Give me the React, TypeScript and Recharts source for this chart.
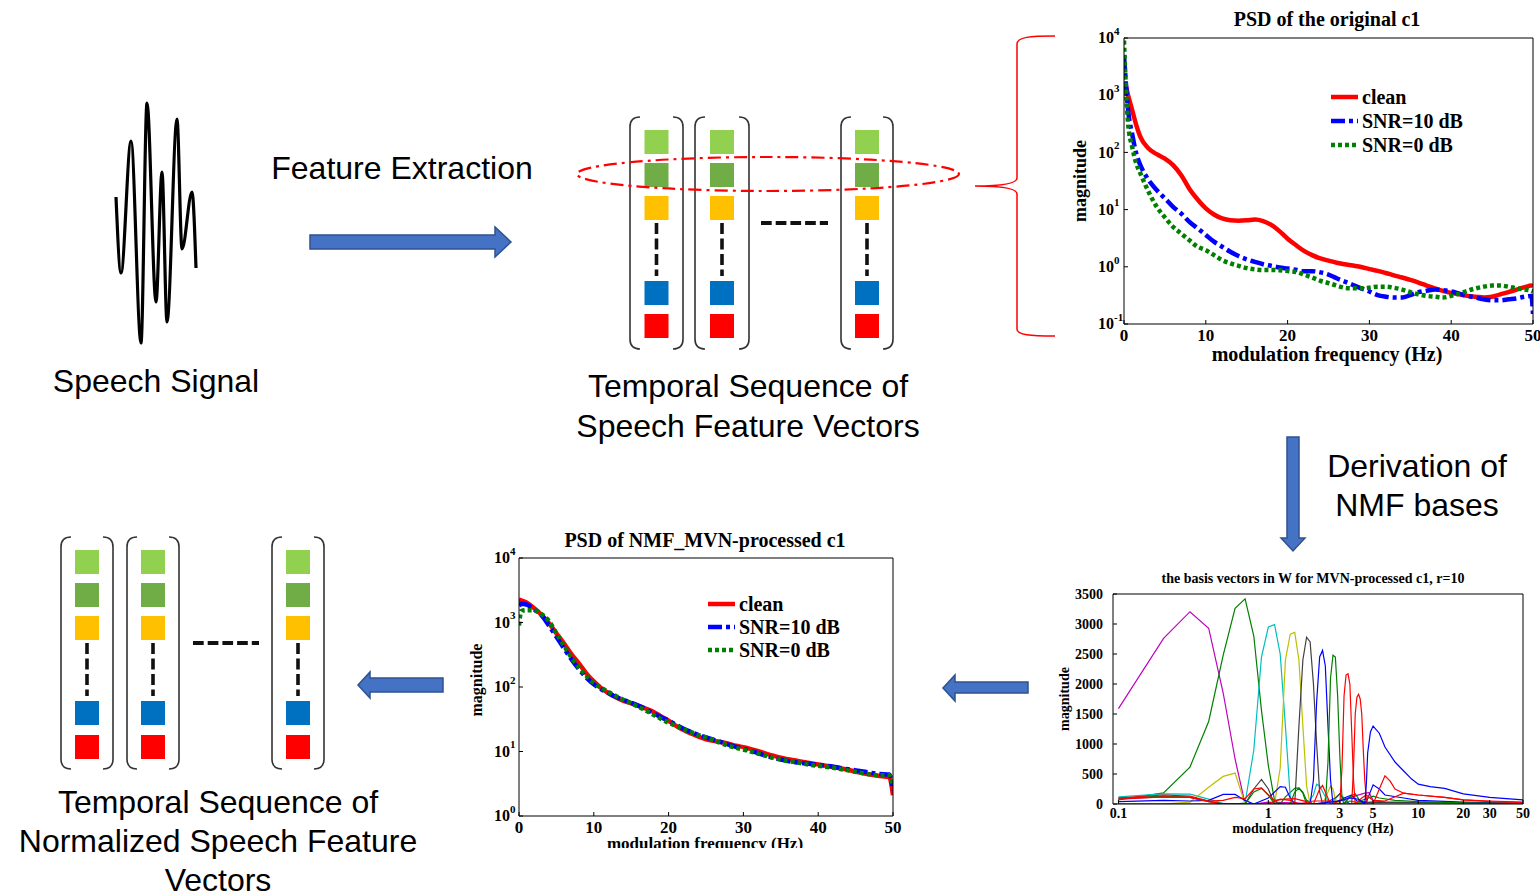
import React from "react";
import { LineChart, Line, XAxis, YAxis } from "recharts";

const SERIF = '"Liberation Serif", "Times New Roman", serif';
const SANS = '"Liberation Sans", Arial, sans-serif';

const RED = "#FF0000";
const BLUE = "#0000FF";
const GREEN = "#008000";
const CYAN = "#00BFBF";
const MAGENTA = "#BF00BF";
const YELLOW = "#BFBF00";
const GREY = "#404040";

// speech waveform sketch: sample index / amplitude
const waveT = [6, 11, 21, 31, 37, 46, 52, 57, 67, 72, 82, 86];
const waveA = [25, -51, 81, -121, 119, -80, 50, -100, 103, -27, 30, -46];

// PSD of the original c1
const origFreq = [0, 0.25, 0.5, 1, 1.5, 2, 3, 4, 5, 6, 7, 8, 9, 10, 11, 12, 13, 14, 15, 16, 17, 18, 19, 20, 21, 22, 23, 24, 25, 26, 27, 28, 29, 30, 31, 32, 33, 34, 35, 36, 37, 38, 39, 40, 41, 42, 43, 44, 45, 46, 47, 48, 49, 49.8, 50];
const origClean = [1700, 1400, 1000, 550, 300, 186, 117, 93, 78, 60, 40, 23, 15, 10.5, 8.2, 7, 6.5, 6.4, 6.5, 6.7, 6.3, 5.4, 4.2, 3.1, 2.4, 1.9, 1.6, 1.4, 1.28, 1.18, 1.11, 1.05, 0.99, 0.91, 0.85, 0.78, 0.71, 0.65, 0.59, 0.53, 0.47, 0.42, 0.38, 0.35, 0.33, 0.31, 0.3, 0.29, 0.3, 0.33, 0.36, 0.4, 0.44, 0.47, 0.46];
const origSnr10 = [5000, 1500, 550, 210, 95, 60, 33, 22, 15.7, 11.2, 8.5, 6.1, 4.7, 3.6, 2.75, 2.24, 1.83, 1.54, 1.35, 1.22, 1.11, 1.04, 0.97, 0.93, 0.89, 0.84, 0.84, 0.8, 0.73, 0.63, 0.55, 0.48, 0.42, 0.37, 0.32, 0.3, 0.29, 0.29, 0.32, 0.36, 0.38, 0.4, 0.39, 0.37, 0.34, 0.31, 0.29, 0.27, 0.26, 0.26, 0.27, 0.28, 0.3, 0.31, 0.15];
const origSnr0 = [9000, 1200, 320, 125, 64, 43, 20.5, 11.2, 7.3, 5, 3.8, 2.9, 2.24, 1.95, 1.6, 1.31, 1.15, 1.04, 0.95, 0.9, 0.88, 0.88, 0.87, 0.84, 0.81, 0.73, 0.65, 0.57, 0.52, 0.47, 0.43, 0.42, 0.42, 0.43, 0.45, 0.45, 0.43, 0.4, 0.36, 0.33, 0.31, 0.3, 0.29, 0.31, 0.34, 0.38, 0.42, 0.45, 0.47, 0.47, 0.45, 0.42, 0.4, 0.38, 0.37];

// PSD of NMF_MVN-processed c1
const nmfFreq = [0, 0.3, 1, 2, 3, 4, 5, 6, 7, 8, 9, 10, 11, 12, 13, 14, 15, 16, 17, 18, 19, 20, 21, 22, 23, 24, 25, 26, 27, 28, 29, 30, 31, 32, 33, 34, 35, 36, 37, 38, 39, 40, 42, 44, 46, 48, 49.5, 50];
const nmfClean = [2250, 2200, 2050, 1670, 1320, 980, 680, 475, 325, 233, 163, 122, 96, 80, 69, 61, 56, 51, 46, 41, 35, 30, 25, 21.5, 19, 17, 15.5, 14.6, 14, 13.2, 12.3, 11.7, 10.9, 10.1, 9.3, 8.6, 8, 7.6, 7.25, 6.9, 6.6, 6.3, 5.75, 5.2, 4.6, 4.2, 4.0, 2.1];
const nmfSnr10 = [1800, 1950, 1900, 1600, 1300, 900, 600, 400, 270, 190, 140, 110, 92, 80, 70, 63, 57, 51, 45, 39, 34, 30, 26, 22.5, 20, 18, 16.5, 15.2, 14, 12.8, 11.8, 11, 10.2, 9.4, 8.6, 8, 7.5, 7.1, 6.8, 6.6, 6.4, 6.2, 5.8, 5.3, 4.9, 4.5, 4.4, 2.5];
const nmfSnr0 = [900, 1500, 1550, 1550, 1350, 1050, 680, 440, 290, 200, 150, 115, 97, 83, 72, 63, 56, 49, 43, 37, 32, 28, 25, 22, 20, 18, 16.5, 15, 13.5, 12.3, 11.4, 10.7, 10, 9.3, 8.6, 8, 7.5, 7.1, 6.8, 6.5, 6.2, 6, 5.6, 5.1, 4.6, 4.3, 4.3, 3];

const psdXTicks = [0, 10, 20, 30, 40, 50];
const origYTicks = [0.1, 1, 10, 100, 1000, 10000];
const nmfYTicks = [1, 10, 100, 1000, 10000];

// basis vectors in W, [frequency Hz, magnitude]
const basisMagenta = [[0.1, 1590], [0.2, 2760], [0.3, 3205], [0.4, 2930], [0.5, 1850], [0.6, 750], [0.7, 0], [0.8, 0], [1.0, 30], [1.5, 20], [2, 0], [3, 60], [4.4, 180], [4.7, 190], [5, 60], [6, 30], [10, 20], [20, 10], [50, 5]];
const basisGreenA = [[0.1, 70], [0.2, 185], [0.3, 615], [0.4, 1375], [0.5, 2480], [0.6, 3260], [0.7, 3420], [0.8, 2800], [0.9, 1560], [1.0, 640], [1.1, 60], [1.2, 0], [1.3, 120], [1.5, 260], [1.6, 270], [1.7, 200], [1.8, 60], [2.0, 0], [3.0, 0], [3.5, 50], [4, 20], [5, 30], [6, 20], [10, 10], [50, 5]];
const basisCyan = [[0.1, 120], [0.2, 170], [0.3, 165], [0.4, 80], [0.5, 10], [0.6, 0], [0.7, 20], [0.8, 900], [0.9, 2450], [1.0, 2950], [1.1, 2990], [1.2, 2500], [1.3, 1300], [1.4, 120], [1.5, 0], [1.8, 0], [2.0, 150], [2.1, 330], [2.2, 300], [2.4, 120], [2.6, 0], [3.0, 170], [3.2, 100], [3.5, 0], [5, 20], [10, 10], [50, 5]];
const basisYellow = [[0.1, 0], [0.2, 0], [0.3, 30], [0.4, 280], [0.5, 460], [0.6, 515], [0.7, 0], [1.1, 0], [1.2, 600], [1.3, 2400], [1.4, 2830], [1.5, 2860], [1.6, 2400], [1.7, 1300], [1.8, 300], [1.9, 0], [2.3, 0], [2.5, 200], [2.6, 300], [2.7, 250], [2.8, 80], [3.0, 0], [5, 20], [50, 5]];
const basisBlack = [[0.1, 90], [0.2, 120], [0.3, 115], [0.4, 50], [0.5, 0], [0.7, 0], [0.8, 250], [0.9, 410], [1.0, 250], [1.1, 0], [1.5, 0], [1.6, 1300], [1.7, 2400], [1.8, 2780], [1.9, 2700], [2.0, 2000], [2.1, 1000], [2.2, 200], [2.3, 0], [2.8, 100], [3.0, 170], [3.2, 60], [3.5, 0], [5, 30], [50, 5]];
const basisBlueA = [[0.1, 40], [0.2, 60], [0.3, 50], [0.4, 60], [0.5, 160], [0.6, 160], [0.7, 60], [0.8, 0], [1.0, 100], [1.2, 290], [1.3, 280], [1.4, 100], [1.5, 0], [1.9, 0], [2.0, 400], [2.1, 1700], [2.2, 2450], [2.3, 2560], [2.4, 2300], [2.5, 1300], [2.6, 400], [2.7, 0], [3.2, 100], [3.6, 150], [3.9, 50], [4.5, 30], [5, 320], [5.5, 250], [6, 150], [8, 100], [10, 60], [20, 30], [50, 10]];
const basisGreenB = [[0.1, 100], [0.2, 130], [0.3, 110], [0.4, 40], [0.5, 0], [0.7, 0], [0.8, 200], [0.9, 260], [1.0, 150], [1.1, 0], [1.4, 0], [1.5, 200], [1.6, 260], [1.7, 180], [1.8, 0], [2.4, 0], [2.5, 700], [2.6, 2100], [2.7, 2480], [2.8, 2450], [2.9, 1800], [3.0, 800], [3.1, 100], [3.2, 0], [3.5, 120], [3.8, 170], [4.1, 50], [5, 130], [5.5, 100], [7, 60], [10, 40], [20, 20], [50, 10]];
const basisRedA = [[0.1, 100], [0.2, 150], [0.3, 130], [0.4, 50], [0.5, 60], [0.6, 110], [0.7, 90], [0.8, 250], [0.9, 270], [1.0, 150], [1.1, 60], [1.3, 80], [1.5, 90], [1.8, 40], [2.0, 0], [2.2, 250], [2.3, 310], [2.4, 200], [2.6, 0], [3.0, 0], [3.1, 600], [3.2, 1800], [3.3, 2150], [3.4, 2170], [3.5, 2000], [3.6, 1200], [3.7, 400], [3.8, 0], [4.2, 100], [4.5, 150], [5, 60], [6, 50], [8, 180], [10, 150], [15, 110], [20, 70], [30, 40], [50, 25]];
const basisRedB = [[0.1, 80], [0.2, 120], [0.3, 110], [0.4, 40], [0.5, 0], [1.0, 0], [1.2, 80], [1.4, 60], [1.6, 0], [2.0, 50], [2.6, 50], [3.0, 0], [3.6, 0], [3.7, 600], [3.8, 1500], [3.9, 1780], [4.0, 1830], [4.1, 1750], [4.2, 1500], [4.3, 900], [4.4, 400], [4.5, 100], [4.6, 0], [5.0, 0], [5.5, 250], [6, 470], [6.5, 380], [7, 250], [8, 180], [10, 150], [15, 110], [20, 70], [30, 50], [50, 30]];
const basisBlueB = [[0.1, 0], [1.0, 0], [2.0, 0], [3.0, 50], [3.5, 100], [4.0, 80], [4.4, 0], [4.5, 300], [4.6, 850], [4.8, 1200], [5.0, 1300], [5.5, 1180], [6, 950], [7, 700], [8, 550], [9, 420], [10, 330], [12, 290], [15, 260], [20, 170], [30, 110], [50, 70]];

const basisXTicks = [0.1, 1, 3, 5, 10, 20, 30, 50];
const basisYTicks = [0, 500, 1000, 1500, 2000, 2500, 3000, 3500];
const basisTopTicks = [0.2, 0.3, 0.4, 0.5, 0.6, 0.7, 0.8, 0.9, 1, 2, 3, 4, 5, 6, 7, 8, 9, 10, 20, 30, 40, 50];

const logMinor = (lo: number, hi: number) => {
  const out: number[] = [];
  for (let e = lo; e < hi; e++) for (let m = 1; m < 10; m++) out.push(m * Math.pow(10, e));
  out.push(Math.pow(10, hi));
  return out;
};

const psdSeries = [
  { key: "clean", name: "clean", color: RED, dash: undefined as string | undefined },
  { key: "snr10", name: "SNR=10 dB", color: BLUE, dash: "14 4 4 4" },
  { key: "snr0", name: "SNR=0 dB", color: GREEN, dash: "4 3" },
];

const origData = origFreq.map((f, i) => ({ f, clean: origClean[i], snr10: origSnr10[i], snr0: origSnr0[i] }));
const nmfData = nmfFreq.map((f, i) => ({ f, clean: nmfClean[i], snr10: nmfSnr10[i], snr0: nmfSnr0[i] }));
const waveData = waveT.map((t, i) => ({ t, a: waveA[i] }));

const toPts = (pairs: number[][]) => pairs.map(([f, w]) => ({ f, w }));
const basisCurves = [
  { id: "m", color: MAGENTA, pts: toPts(basisMagenta) },
  { id: "g1", color: GREEN, pts: toPts(basisGreenA) },
  { id: "c", color: CYAN, pts: toPts(basisCyan) },
  { id: "y", color: YELLOW, pts: toPts(basisYellow) },
  { id: "k", color: GREY, pts: toPts(basisBlack) },
  { id: "b1", color: BLUE, pts: toPts(basisBlueA) },
  { id: "g2", color: GREEN, pts: toPts(basisGreenB) },
  { id: "r1", color: RED, pts: toPts(basisRedA) },
  { id: "r2", color: RED, pts: toPts(basisRedB) },
  { id: "b2", color: BLUE, pts: toPts(basisBlueB) },
];

const Txt = ({ x, y, size, children, family = SERIF, weight = 700, rotate = 0 }: any) => (
  <div
    style={{
      position: "absolute", left: x, top: y,
      transform: `translate(-50%, -50%) rotate(${rotate}deg)`,
      fontFamily: family, fontSize: size, fontWeight: weight,
      lineHeight: 1, whiteSpace: "nowrap", color: "#000",
    }}
  >
    {children}
  </div>
);

const PowTick = (props: any) => {
  const { x, y, payload, size, sup } = props;
  const exp = Math.round(Math.log10(payload.value));
  return (
    <g>
      <text x={x} y={y + size * 0.33} textAnchor="end" fontFamily={SERIF} fontWeight="bold" fontSize={size} fill="#000">10</text>
      <text x={x} y={y - size * 0.2} textAnchor="start" fontFamily={SERIF} fontWeight="bold" fontSize={sup} fill="#000">{exp}</text>
    </g>
  );
};

const PsdLegend = ({ x, y, rowH }: any) => (
  <div style={{ position: "absolute", left: x, top: y }}>
    {psdSeries.map((s) => (
      <div key={s.key} style={{ display: "flex", alignItems: "center", height: rowH }}>
        <svg width={31} height={8} style={{ display: "block" }}>
          <line x1={0} y1={4} x2={27} y2={4} stroke={s.color} strokeWidth={4.5} strokeDasharray={s.dash} />
        </svg>
        <span style={{ fontFamily: SERIF, fontWeight: 700, fontSize: 20, lineHeight: 1 }}>{s.name}</span>
      </div>
    ))}
  </div>
);

const tickStyle = (size: number) => ({ fill: "#000", fontSize: size, fontWeight: 700, fontFamily: SERIF });

function PsdChart({ width, height, margin, data, yDomain, yTicks, yMinor, tickMargin }: any) {
  return (
    <LineChart width={width} height={height} data={data} margin={margin}>
      <XAxis xAxisId="b" dataKey="f" type="number" domain={[0, 50]} ticks={psdXTicks} interval={0} allowDataOverflow
        height={30} tickSize={-4} tickMargin={9} stroke="#000" tick={tickStyle(17)} />
      <XAxis xAxisId="t" orientation="top" dataKey="f" type="number" domain={[0, 50]} ticks={psdXTicks} interval={0}
        allowDataOverflow height={1} tickSize={-4} stroke="#000" tick={false} />
      <YAxis yAxisId="l" type="number" scale="log" domain={yDomain} ticks={yTicks} interval={0} allowDataOverflow
        width={40} tickSize={-4} tickMargin={tickMargin} stroke="#000"
        tick={(p: any) => <PowTick {...p} size={16} sup={11} />} />
      <YAxis yAxisId="r" orientation="right" type="number" scale="log" domain={yDomain} ticks={yMinor} interval={0}
        allowDataOverflow width={1} tickSize={-4} stroke="#000" tick={false} />
      {psdSeries.map((s) => (
        <Line key={s.key} xAxisId="b" yAxisId="l" dataKey={s.key} type="monotone" stroke={s.color} strokeWidth={4.5}
          strokeDasharray={s.dash} dot={false} isAnimationActive={false} />
      ))}
    </LineChart>
  );
}

const Column = ({ l, r, top, bottom, ys, dash }: any) => {
  const cx = (l + r) / 2;
  const colors = ["#92D050", "#70AD47", "#FFC000", "#0070C0", "#FF0000"];
  return (
    <g>
      <path d={`M ${l + 10} ${top} Q ${l} ${top} ${l} ${top + 10} L ${l} ${bottom - 10} Q ${l} ${bottom} ${l + 10} ${bottom}`} fill="none" stroke="#333" strokeWidth={1.6} />
      <path d={`M ${r - 10} ${top} Q ${r} ${top} ${r} ${top + 10} L ${r} ${bottom - 10} Q ${r} ${bottom} ${r - 10} ${bottom}`} fill="none" stroke="#333" strokeWidth={1.6} />
      {ys.map((y: number, i: number) => (
        <rect key={i} x={cx - 12} y={y} width={24} height={24} fill={colors[i]} />
      ))}
      <line x1={cx} y1={dash[0]} x2={cx} y2={dash[1]} stroke="#111" strokeWidth={3.6} strokeDasharray="11 4.5" />
    </g>
  );
};

const arrowStyle = { fill: "#4472C4", stroke: "#2F528F", strokeWidth: 1.5 };

function Diagram() {
  const topYs = [130, 163, 196, 281, 314];
  const botYs = [550, 583, 616, 701, 735];
  return (
    <svg width={1540} height={894} style={{ position: "absolute", left: 0, top: 0 }}>
      <polygon points="310,235 495,235 495,227 511,242 495,257 495,249 310,249" {...arrowStyle} />
      <polygon points="1287,437 1299,437 1299,538 1305,538 1293,551 1281,538 1287,538" {...arrowStyle} />
      <polygon points="1028,682 955,682 955,675 943,688 955,701 955,693 1028,693" {...arrowStyle} />
      <polygon points="443,678 370,678 370,672 358,685 370,698 370,692 443,692" {...arrowStyle} />

      <Column l={630} r={683} top={117} bottom={349} ys={topYs} dash={[223, 276]} />
      <Column l={695} r={749} top={117} bottom={349} ys={topYs} dash={[223, 276]} />
      <Column l={841} r={893} top={117} bottom={349} ys={topYs} dash={[223, 276]} />
      <line x1={761} y1={223} x2={828} y2={223} stroke="#111" strokeWidth={3.8} strokeDasharray="10.7 4" />

      <Column l={61} r={113} top={537} bottom={769} ys={botYs} dash={[643, 696]} />
      <Column l={127} r={179} top={537} bottom={769} ys={botYs} dash={[643, 696]} />
      <Column l={272} r={324} top={537} bottom={769} ys={botYs} dash={[643, 696]} />
      <line x1={193} y1={643} x2={259} y2={643} stroke="#111" strokeWidth={3.8} strokeDasharray="10.7 4" />

      <ellipse cx={768} cy={174} rx={191} ry={17} fill="none" stroke="#FF0000" strokeWidth={2.2} strokeDasharray="13 5 3 5" />
      <path d="M 1055 36 C 1030 36 1017 37 1017 44 L 1017 178 C 1017 184 1000 186 975 186 C 1000 186 1017 188 1017 194 L 1017 329 C 1017 335 1030 336 1055 336"
        fill="none" stroke="#FF0000" strokeWidth={1.5} />
    </svg>
  );
}

export default function App() {
  return (
    <div style={{ position: "absolute", left: 0, top: 0, width: 1540, height: 894, background: "#fff", overflow: "hidden" }}>
      <Diagram />

      {/* speech waveform */}
      <div style={{ position: "absolute", left: 110, top: 95 }}>
        <LineChart width={95} height={255} data={waveData} margin={{ top: 0, right: 0, bottom: 0, left: 0 }}>
          <XAxis dataKey="t" type="number" domain={[0, 95]} hide />
          <YAxis type="number" domain={[-128, 127]} hide />
          <Line dataKey="a" type="monotone" stroke="#000" strokeWidth={3.2} dot={false} isAnimationActive={false} />
        </LineChart>
      </div>

      {/* PSD of the original c1 */}
      <div style={{ position: "absolute", left: 1040, top: 0 }}>
        <PsdChart width={500} height={370} margin={{ top: 37, right: 6, bottom: 16, left: 44 }} data={origData}
          yDomain={[0.1, 10000]} yTicks={origYTicks} yMinor={logMinor(-1, 4)} tickMargin={14} />
      </div>
      <PsdLegend x={1331} y={85} rowH={24} />
      <Txt x={1327} y={19} size={20}>PSD of the original c1</Txt>
      <Txt x={1327} y={354} size={20}>modulation frequency (Hz)</Txt>
      <Txt x={1080} y={181} size={18} rotate={-90}>magnitude</Txt>

      {/* PSD of NMF_MVN-processed c1 */}
      <div style={{ position: "absolute", left: 440, top: 530, width: 470, height: 318, overflow: "hidden" }}>
        <PsdChart width={470} height={318} margin={{ top: 27, right: 16, bottom: 2, left: 39 }} data={nmfData}
          yDomain={[1, 10000]} yTicks={nmfYTicks} yMinor={logMinor(0, 4)} tickMargin={13} />
        <Txt x={265} y={10} size={20}>PSD of NMF_MVN-processed c1</Txt>
        <Txt x={265} y={313} size={17}>modulation frequency (Hz)</Txt>
        <Txt x={37} y={150} size={16} rotate={-90}>magnitude</Txt>
      </div>
      <PsdLegend x={708} y={592.5} rowH={23} />

      {/* basis vectors */}
      <div style={{ position: "absolute", left: 1050, top: 565 }}>
        <LineChart width={490} height={280} margin={{ top: 28, right: 16, bottom: 16, left: 23 }}>
          <XAxis xAxisId="b" dataKey="f" type="number" scale="log" domain={[0.092, 50]} ticks={basisXTicks} interval={0}
            allowDataOverflow height={25} tickSize={-4} tickMargin={8} stroke="#000" tick={tickStyle(14)} />
          <XAxis xAxisId="t" orientation="top" dataKey="f" type="number" scale="log" domain={[0.092, 50]} ticks={basisTopTicks}
            interval={0} allowDataOverflow height={1} tickSize={-4} stroke="#000" tick={false} />
          <YAxis yAxisId="l" type="number" domain={[0, 3500]} ticks={basisYTicks} interval={0} allowDataOverflow width={40}
            tickSize={-4} tickMargin={14} stroke="#000" tick={tickStyle(14)} />
          <YAxis yAxisId="r" orientation="right" type="number" domain={[0, 3500]} ticks={basisYTicks} interval={0}
            allowDataOverflow width={1} tickSize={-4} stroke="#000" tick={false} />
          {basisCurves.map((c) => (
            <Line key={c.id} xAxisId="b" yAxisId="l" data={c.pts} dataKey="w" type="linear" stroke={c.color}
              strokeWidth={1.2} dot={false} isAnimationActive={false} />
          ))}
        </LineChart>
      </div>
      <Txt x={1313} y={579} size={14}>the basis vectors in W for MVN-processed c1, r=10</Txt>
      <Txt x={1313} y={829} size={14}>modulation frequency (Hz)</Txt>
      <Txt x={1065} y={699} size={14} rotate={-90}>magnitude</Txt>

      {/* diagram captions */}
      <Txt x={156} y={381} size={32} family={SANS} weight={400}>Speech Signal</Txt>
      <Txt x={402} y={168} size={32} family={SANS} weight={400}>Feature Extraction</Txt>
      <Txt x={748} y={386} size={32} family={SANS} weight={400}>Temporal Sequence of</Txt>
      <Txt x={748} y={426} size={32} family={SANS} weight={400}>Speech Feature Vectors</Txt>
      <Txt x={1417} y={466} size={32} family={SANS} weight={400}>Derivation of</Txt>
      <Txt x={1417} y={505} size={32} family={SANS} weight={400}>NMF bases</Txt>
      <Txt x={218} y={802} size={32} family={SANS} weight={400}>Temporal Sequence of</Txt>
      <Txt x={218} y={841} size={32} family={SANS} weight={400}>Normalized Speech Feature</Txt>
      <Txt x={218} y={880} size={32} family={SANS} weight={400}>Vectors</Txt>
    </div>
  );
}
